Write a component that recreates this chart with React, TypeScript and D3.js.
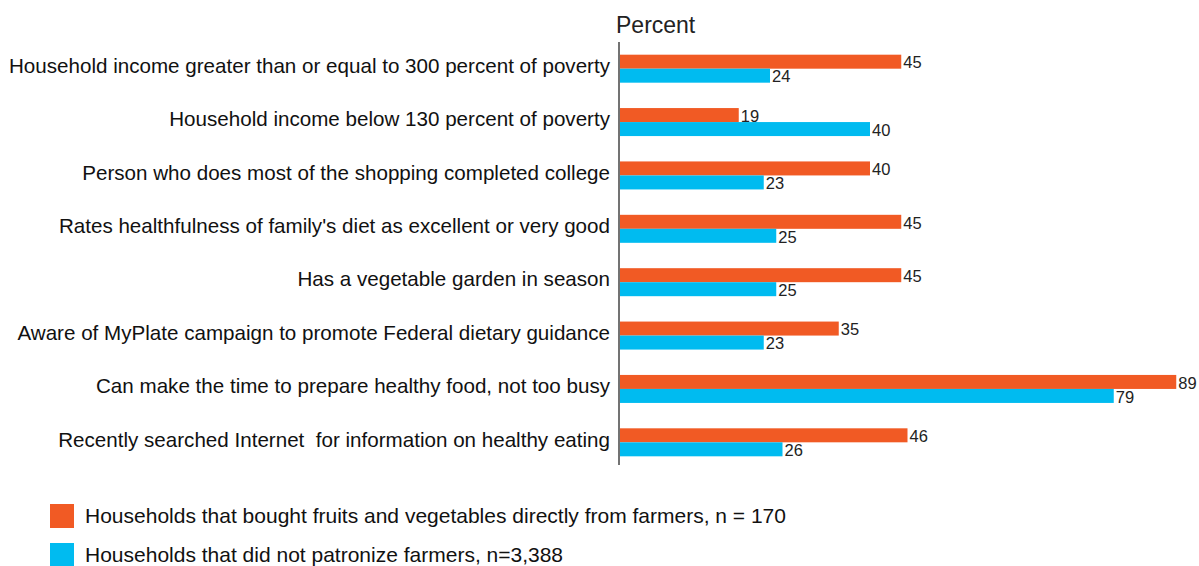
import React from "react";
import * as d3 from "d3";

const categories = [
  "Household income greater than or equal to 300 percent of poverty",
  "Household income below 130 percent of poverty",
  "Person who does most of the shopping completed college",
  "Rates healthfulness of family's diet as excellent or very good",
  "Has a vegetable garden in season",
  "Aware of MyPlate campaign to promote Federal dietary guidance",
  "Can make the time to prepare healthy food, not too busy",
  "Recently searched Internet  for information on healthy eating",
];
const farmers = [45, 19, 40, 45, 45, 35, 89, 46];
const nonFarmers = [24, 40, 23, 25, 25, 23, 79, 26];
const seriesNames = [
  "Households that bought fruits and vegetables directly from farmers, n = 170",
  "Households that did not patronize farmers, n=3,388",
];
const colors = ["#F15A24", "#00BBF0"];

export default function App() {
  const W = 1199, H = 566;
  const x = d3.scaleLinear().domain([0, 100]).range([620, 1245]);
  const y = d3.scaleBand().domain(categories).range([42, 469]);
  const barH = 14;
  const font = "Liberation Sans, Arial, Helvetica, sans-serif";
  const series = [farmers, nonFarmers];
  return (
    <svg width={W} height={H} style={{ position: "absolute", left: 0, top: 0, whiteSpace: "pre" }} fontFamily={font}>
      <text x={616} y={33} fontSize={23} fill="#222">Percent</text>
      {categories.map((c, i) => {
        const cy = y(c)! + y.bandwidth() / 2;
        return (
          <g key={c}>
            <text x={610} y={cy - 3} dy="0.35em" textAnchor="end" fontSize={20.6} fill="#111" style={{ whiteSpace: "pre" }}>{c}</text>
            {series.map((s, k) => {
              const top = cy - barH + k * barH;
              return (
                <g key={k}>
                  <rect x={x(0)} y={top} width={x(s[i]) - x(0)} height={barH} fill={colors[k]} />
                  <text x={x(s[i]) + 2} y={top + barH / 2 + 1} dy="0.35em" fontSize={16.5} fill="#222">{s[i]}</text>
                </g>
              );
            })}
          </g>
        );
      })}
      <line x1={619} x2={619} y1={42} y2={465} stroke="#444" strokeWidth={1.5} />
      {seriesNames.map((n, k) => (
        <g key={n}>
          <rect x={50} y={504 + k * 39} width={24} height={24} fill={colors[k]} />
          <text x={85} y={516 + k * 39} dy="0.35em" fontSize={21} fill="#111">{n}</text>
        </g>
      ))}
    </svg>
  );
}
